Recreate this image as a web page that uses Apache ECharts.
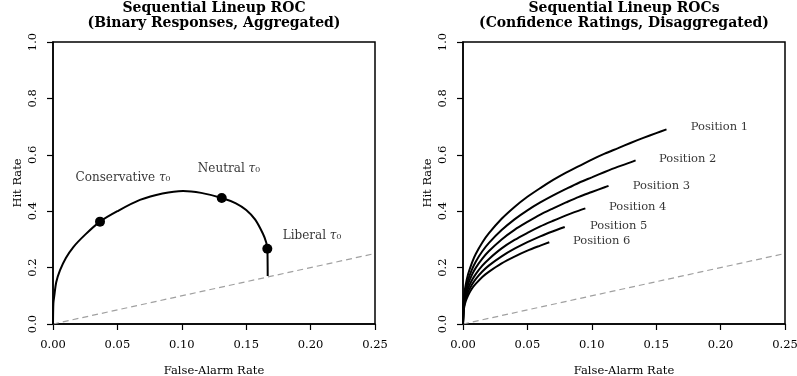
<!DOCTYPE html>
<html><head><meta charset="utf-8">
<script src="https://cdn.jsdelivr.net/npm/echarts@6/dist/echarts.min.js"></script>
<style>html,body{margin:0;padding:0;background:#fff}#c{width:797px;height:376px}</style>
</head><body><div id="c"></div>
<script>
// ---------- data ----------
const xTicks = [0, 0.05, 0.10, 0.15, 0.20, 0.25];
const yTicks = [0, 0.2, 0.4, 0.6, 0.8, 1.0];
const titles = ['Sequential Lineup ROC\n(Binary Responses, Aggregated)', 'Sequential Lineup ROCs\n(Confidence Ratings, Disaggregated)'];
// left panel: aggregated binary ROC
const aggX = [0, 0.0003, 0.001, 0.0025, 0.0054, 0.01, 0.0158, 0.025, 0.0365, 0.05, 0.0675, 0.085, 0.101, 0.115, 0.131, 0.142, 0.150, 0.157, 0.163, 0.1655, 0.1664, 0.1666, 0.1667];
const aggY = [0, 0.074, 0.10, 0.148, 0.19, 0.234, 0.273, 0.317, 0.363, 0.40, 0.44, 0.463, 0.472, 0.465, 0.447, 0.428, 0.404, 0.37, 0.32, 0.29, 0.267, 0.23, 0.17];
const pointNames = ['Conservative', 'Neutral', 'Liberal'];
const pointX = [0.0365, 0.131, 0.1664];
const pointY = [0.363, 0.447, 0.267];
// right panel: per-position confidence ROCs
const posNames = ['Position 1', 'Position 2', 'Position 3', 'Position 4', 'Position 5', 'Position 6'];
const fx = [0, 0.0005, 0.001, 0.002, 0.004, 0.007, 0.01, 0.015, 0.02, 0.03, 0.04, 0.05, 0.06, 0.07, 0.08, 0.09, 0.10, 0.11, 0.12, 0.13, 0.14, 0.15];
const posEndX = [0.158, 0.134, 0.113, 0.095, 0.079, 0.067];
const pos1 = [0, 0.082, 0.106, 0.137, 0.177, 0.218, 0.249, 0.289, 0.321, 0.373, 0.415, 0.451, 0.482, 0.511, 0.537, 0.560, 0.583, 0.604, 0.623, 0.642, 0.660, 0.677, 0.69];
const pos2 = [0, 0.073, 0.095, 0.122, 0.158, 0.194, 0.222, 0.258, 0.287, 0.333, 0.371, 0.403, 0.431, 0.456, 0.479, 0.501, 0.520, 0.539, 0.557, 0.573, 0.58];
const pos3 = [0, 0.066, 0.085, 0.110, 0.142, 0.175, 0.200, 0.232, 0.258, 0.300, 0.334, 0.362, 0.388, 0.410, 0.431, 0.451, 0.468, 0.485, 0.49];
const pos4 = [0, 0.059, 0.076, 0.098, 0.127, 0.156, 0.178, 0.207, 0.230, 0.268, 0.298, 0.323, 0.346, 0.366, 0.385, 0.402, 0.41];
const pos5 = [0, 0.053, 0.068, 0.088, 0.114, 0.140, 0.160, 0.186, 0.207, 0.240, 0.267, 0.290, 0.311, 0.329, 0.344];
const pos6 = [0, 0.047, 0.061, 0.079, 0.102, 0.126, 0.143, 0.167, 0.185, 0.215, 0.239, 0.260, 0.278, 0.29];
const chance = [[0, 0], [0.25, 0.25]];
// annotation anchors (data coordinates)
const ptLabelPos = [[0.0543, 0.518], [0.1366, 0.55], [0.2011, 0.312]];
const posLabelPos = [[0.1768, 0.699], [0.1522, 0.585], [0.1318, 0.489], [0.1134, 0.415], [0.0986, 0.348], [0.0854, 0.294]];

// ---------- chart ----------
const FONT = 'DejaVu Serif';
const chart = echarts.init(document.getElementById('c'), null, {renderer: 'canvas'});
const grids = [
  {left: 53, top: 42, width: 322, height: 282},
  {left: 463, top: 42, width: 322, height: 282}
];
function xAxis(i) {
  return {gridIndex: i, type: 'value', min: 0, max: 0.25, interval: 0.05,
    name: 'False-Alarm Rate', nameLocation: 'middle', nameGap: 41,
    nameTextStyle: {fontFamily: FONT, fontSize: 11.5, color: '#000'},
    axisLine: {show: true, onZero: false, lineStyle: {color: '#000', width: 1.5}},
    axisTick: {show: true, length: 6, lineStyle: {color: '#000', width: 1.2}},
    axisLabel: {fontFamily: FONT, fontSize: 11.5, color: '#000', margin: 15, formatter: v => v.toFixed(2)},
    splitLine: {show: false}};
}
function yAxis(i) {
  return {gridIndex: i, type: 'value', min: 0, max: 1, interval: 0.2,
    name: 'Hit Rate', nameLocation: 'middle', nameGap: 29,
    nameTextStyle: {fontFamily: FONT, fontSize: 11.5, color: '#000'},
    axisLine: {show: true, onZero: false, lineStyle: {color: '#000', width: 1.5}},
    axisTick: {show: true, length: 6, lineStyle: {color: '#000', width: 1.2}},
    axisLabel: {fontFamily: FONT, fontSize: 11.5, color: '#000', margin: 14, rotate: 90, formatter: v => v.toFixed(1)},
    splitLine: {show: false}};
}
const zip = (xs, ys) => ys.map((y, k) => [xs[k], y]);
const posSeries = [pos1, pos2, pos3, pos4, pos5, pos6].map((arr, i) => ({
  type: 'line', xAxisIndex: 1, yAxisIndex: 1, name: posNames[i], smooth: 0.3, symbol: 'none',
  lineStyle: {color: '#000', width: 2}, silent: true,
  data: arr.map((y, k) => [k < arr.length - 1 ? fx[k] : posEndX[i], y])
}));
const tauRich = {t: {fontFamily: FONT, fontSize: 12, fontStyle: 'italic', color: '#000'}};
const series = [
  {type: 'line', xAxisIndex: 0, yAxisIndex: 0, data: chance, symbol: 'none', silent: true,
   lineStyle: {color: '#a0a0a0', width: 1.2, type: [6, 4]}},
  {type: 'line', xAxisIndex: 1, yAxisIndex: 1, data: chance, symbol: 'none', silent: true,
   lineStyle: {color: '#a0a0a0', width: 1.2, type: [6, 4]}},
  {type: 'line', xAxisIndex: 0, yAxisIndex: 0, data: zip(aggX, aggY), smooth: 0.3, symbol: 'none', silent: true,
   lineStyle: {color: '#000', width: 2}},
  {type: 'scatter', xAxisIndex: 0, yAxisIndex: 0, data: zip(pointX, pointY), symbol: 'circle', symbolSize: 10,
   itemStyle: {color: '#000', opacity: 1}, silent: true},
  {type: 'scatter', xAxisIndex: 0, yAxisIndex: 0, symbolSize: 0, silent: true,
   data: ptLabelPos.map((p, i) => ({value: p, label: {formatter: pointNames[i] + ' {t|τ}₀'}})),
   label: {show: true, position: 'inside', fontFamily: FONT, fontSize: 12, color: '#000', rich: tauRich}},
  ...posSeries,
  {type: 'scatter', xAxisIndex: 1, yAxisIndex: 1, symbolSize: 0, silent: true,
   data: posLabelPos.map((p, i) => ({value: p, label: {formatter: posNames[i]}})),
   label: {show: true, position: 'right', distance: 0, fontFamily: FONT, fontSize: 11.5, color: '#000'}}
];
chart.setOption({
  animation: false,
  grid: grids.map(g => Object.assign({show: true, borderColor: '#000', borderWidth: 1.5, backgroundColor: 'transparent',
    containLabel: false, outerBoundsMode: 'none'}, g)),
  xAxis: [xAxis(0), xAxis(1)],
  yAxis: [yAxis(0), yAxis(1)],
  graphic: titles.map((t, i) => ({type: 'text', x: grids[i].left + grids[i].width / 2, y: 1,
    style: {text: t, fontFamily: FONT, fontSize: 14, fontWeight: 'bold', lineHeight: 15, fill: '#000', textAlign: 'center', textVerticalAlign: 'top'}})),
  series: series
});
</script></body></html>
